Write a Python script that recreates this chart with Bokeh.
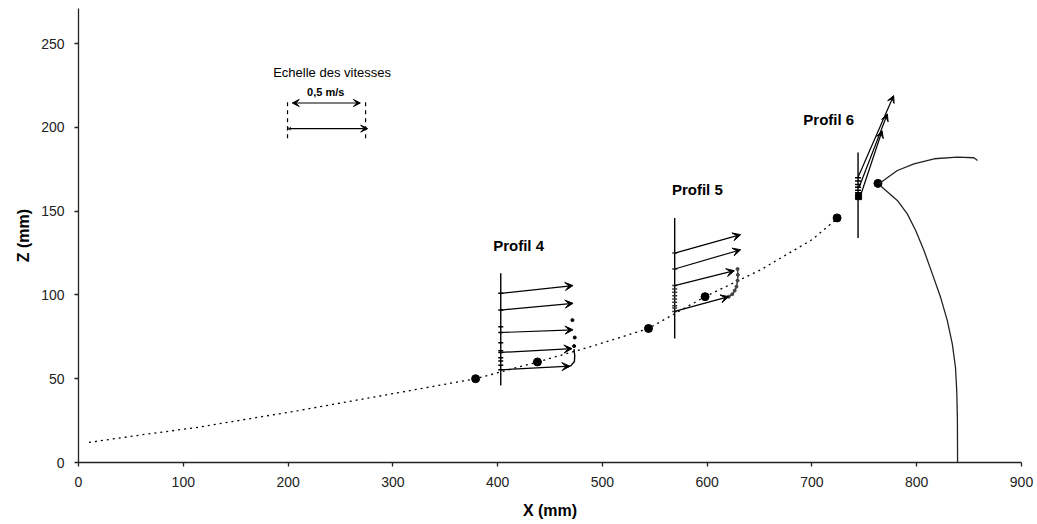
from bokeh.plotting import figure
from bokeh.models import Range1d, FixedTicker, Arrow, VeeHead, ColumnDataSource
from bokeh.core.properties import value
from bokeh.embed import file_html
from bokeh.resources import INLINE

# ---------------- data ----------------
x_ticks = [0, 100, 200, 300, 400, 500, 600, 700, 800, 900]
z_ticks = [0, 50, 100, 150, 200, 250]

# dotted trajectory
traj_x = [10, 60, 114, 210, 317, 379, 438, 488, 544, 598, 651, 700, 723]
traj_z = [12, 16.5, 21, 31, 43, 50, 60, 69, 80, 99, 115, 133, 145]

# big dots
dots_x = [379, 438, 544, 598, 724, 763]
dots_z = [50, 60, 80, 99, 146, 166.6]

# Profil 4
p4_line_x = [403, 403]
p4_line_z = [46, 113]
p4_x0 = [403, 403, 403, 403, 403]
p4_z0 = [101, 91, 77.6, 65.7, 55.3]
p4_x1 = [472, 472, 472, 471, 469]
p4_z1 = [105.6, 95, 79.2, 68, 57.5]
p4_marks_z = [101, 91, 81, 77.6, 71.5, 66.7, 65.7, 62.6, 60.6, 58, 55.3]
p4_pts_x = [471.4, 473.6, 473.0]
p4_pts_z = [85, 74.6, 69.5]
p4_curl_x = [472.9, 473.6, 473.3, 469.8, 465]
p4_curl_z = [67.7, 63.7, 60.3, 57.7, 56.7]

# Profil 5
p5_line_x = [569, 569]
p5_line_z = [74, 146]
p5_x0 = [569, 569, 569, 569]
p5_z0 = [125, 115.5, 105.6, 90.2]
p5_x1 = [632, 632, 626, 620.6]
p5_z1 = [136, 127, 114.5, 99]
p5_marks_z = [125, 115.5, 105.6, 103.6, 101.6, 99.6, 97.6, 95.6, 93.6, 92.2, 90.2]
p5_curl_x = [620.6, 624, 626.3, 628, 629, 629.3, 629]
p5_curl_z = [99, 100.5, 102.6, 105, 108.6, 112, 115.5]

# Profil 6
p6_line_x = [744, 744]
p6_line_z = [134, 185]
p6_x0 = [744, 745, 746.4]
p6_z0 = [170.3, 164.3, 159.4]
p6_x1 = [778, 772, 767]
p6_z1 = [219, 208, 198]
p6_marks_z = [170, 168, 166, 164.3, 162.5, 161]
p6_block_x = [744.5]
p6_block_z = [158.7]

# free surface curve
curve_up_x = [764, 781.5, 797.4, 816.6, 838.8, 854.6, 858]
curve_up_z = [166.4, 174.3, 178.3, 181.3, 182.3, 181.9, 180.3]
curve_lo_x = [765.6, 781.5, 791, 799, 806.9, 814.9, 822.8, 829.2, 834, 837, 838.2, 838.8, 839]
curve_lo_z = [165, 156.4, 148.4, 138.5, 126.6, 112.6, 98.6, 84.7, 70.7, 56.7, 42.8, 26.8, 0]

# velocity scale
scale_title = ["Echelle des vitesses"]
scale_title_x = [242]
scale_title_z = [233]
scale_value = ["0,5 m/s"]
scale_value_x = [236]
scale_value_z = [221]
scale_dbl_x = [204, 269]
scale_dbl_z = [214.6, 214.6]
scale_dash_x = [199.5, 274]
scale_dash_z = [193.5, 215.5]
scale_arr_x = [201, 276]
scale_arr_z = [199.3, 199.3]

# profile labels
prof_labels = ["Profil 4", "Profil 5", "Profil 6"]
prof_lab_x = [420, 590.6, 716]
prof_lab_z = [129.5, 162.8, 204.7]

FONT = "Liberation Sans"

# ---------------- figure ----------------
p = figure(width=1037, height=524, x_range=Range1d(0, 900), y_range=Range1d(0, 271),
           output_backend="svg", toolbar_location=None,
           min_border_left=78, min_border_right=16, min_border_top=8, min_border_bottom=62)
p.grid.visible = False
p.outline_line_color = None
p.background_fill_color = "white"
p.border_fill_color = "white"

p.xaxis.ticker = FixedTicker(ticks=x_ticks)
p.yaxis.ticker = FixedTicker(ticks=z_ticks)
for ax in (p.xaxis[0], p.yaxis[0]):
    ax.axis_line_color = "#222222"
    ax.axis_line_width = 1.3
    ax.major_tick_line_color = "#222222"
    ax.major_tick_line_width = 1.3
    ax.major_tick_in = 0
    ax.major_tick_out = 4
    ax.minor_tick_line_color = None
    ax.major_label_text_font = FONT
    ax.major_label_text_font_size = "14px"
    ax.major_label_text_color = "#222222"
    ax.axis_label_text_font = FONT
    ax.axis_label_text_font_style = "bold"
    ax.axis_label_text_font_size = "16px"
    ax.axis_label_text_color = "black"
p.xaxis.axis_label = "X (mm)"
p.yaxis.axis_label = "Z (mm)"
p.xaxis.major_label_standoff = 10
p.yaxis.major_label_standoff = 10
p.xaxis.axis_label_standoff = 12
p.yaxis.axis_label_standoff = 6

# trajectory
p.line(traj_x, traj_z, line_color="black", line_width=1.3, line_dash="2 4")
p.scatter(dots_x, dots_z, marker="circle", size=8, fill_color="black", line_color="black")

def arrows(x0, z0, x1, z1, size=8):
    src = ColumnDataSource(dict(x0=x0, z0=z0, x1=x1, z1=z1))
    p.add_layout(Arrow(end=VeeHead(size=size, fill_color="black", line_color="black", line_width=1),
                       x_start="x0", y_start="z0", x_end="x1", y_end="z1",
                       line_color="black", line_width=1.2, source=src))

# Profil 4
p.line(p4_line_x, p4_line_z, line_color="black", line_width=1.4)
arrows(p4_x0, p4_z0, p4_x1, p4_z1)
p.scatter([403] * len(p4_marks_z), p4_marks_z, marker="dash", size=5, line_color="black", line_width=1.5)
p.scatter(p4_pts_x, p4_pts_z, marker="circle", size=3, fill_color="black", line_color="black")
p.line(p4_curl_x, p4_curl_z, line_color="black", line_width=1.4)

# Profil 5
p.line(p5_line_x, p5_line_z, line_color="black", line_width=1.4)
arrows(p5_x0, p5_z0, p5_x1, p5_z1)
p.scatter([569] * len(p5_marks_z), p5_marks_z, marker="dash", size=5, line_color="#333333", line_width=1.5)
p.line(p5_curl_x, p5_curl_z, line_color="#444444", line_width=1.5)
p.scatter(p5_curl_x, p5_curl_z, marker="circle", size=3, fill_color="#444444", line_color="#444444")

# Profil 6
p.line(p6_line_x, p6_line_z, line_color="black", line_width=1.4)
arrows(p6_x0, p6_z0, p6_x1, p6_z1, size=7)
p.scatter([744] * len(p6_marks_z), p6_marks_z, marker="dash", size=6, line_color="black", line_width=1.5)
p.scatter(p6_block_x, p6_block_z, marker="square", size=6, fill_color="black", line_color="black")

# free surface curve
p.line(curve_up_x, curve_up_z, line_color="#222222", line_width=1.3)
p.line(curve_lo_x, curve_lo_z, line_color="#222222", line_width=1.3)

# velocity scale
p.text(scale_title_x, scale_title_z, text=scale_title, text_font=value(FONT), text_font_size="13px",
       text_align="center", text_baseline="middle", text_color="black")
p.text(scale_value_x, scale_value_z, text=scale_value, text_font=value(FONT), text_font_size="11px",
       text_font_style="bold", text_align="center", text_baseline="middle", text_color="black")
p.add_layout(Arrow(start=VeeHead(size=7, fill_color="black", line_color="black"),
                   end=VeeHead(size=7, fill_color="black", line_color="black"),
                   x_start=scale_dbl_x[0], y_start=scale_dbl_z[0],
                   x_end=scale_dbl_x[1], y_end=scale_dbl_z[1], line_color="black", line_width=1.2))
p.line([scale_dash_x[0], scale_dash_x[0]], scale_dash_z, line_color="black", line_width=1.2, line_dash="4 4")
p.line([scale_dash_x[1], scale_dash_x[1]], scale_dash_z, line_color="black", line_width=1.2, line_dash="4 4")
p.add_layout(Arrow(end=VeeHead(size=7, fill_color="black", line_color="black"),
                   x_start=scale_arr_x[0], y_start=scale_arr_z[0],
                   x_end=scale_arr_x[1], y_end=scale_arr_z[1], line_color="black", line_width=1.2))
p.scatter([scale_arr_x[0]], [scale_arr_z[0]], marker="x", size=5, line_color="black")

# profile labels
p.text(prof_lab_x, prof_lab_z, text=prof_labels, text_font=value(FONT), text_font_size="15px",
       text_font_style="bold", text_align="center", text_baseline="middle", text_color="black")

open("out.html", "w").write(file_html(p, INLINE))
